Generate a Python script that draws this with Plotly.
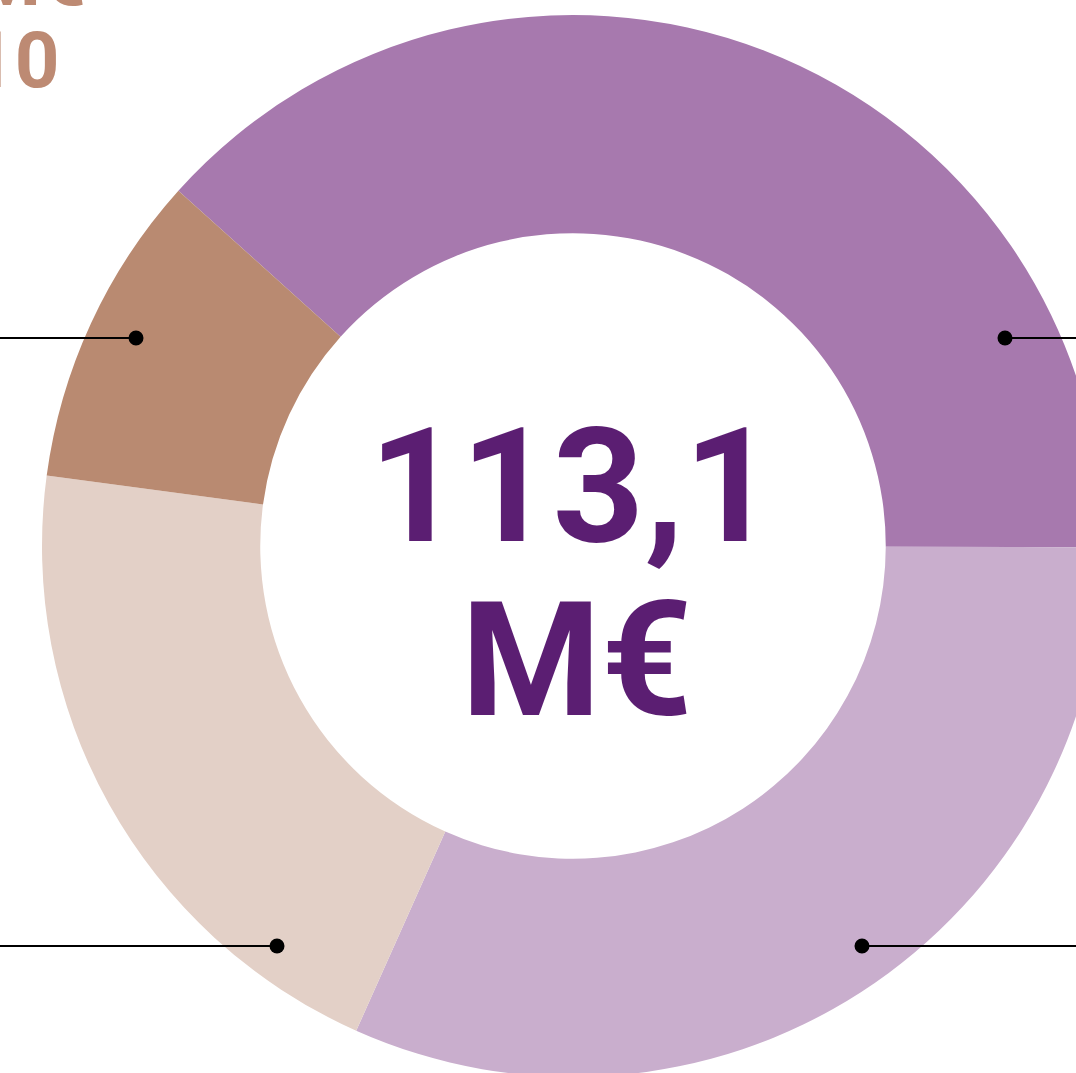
import plotly.graph_objects as go

# ---- data ----
categories = ["Segment A", "Segment B", "Segment C", "Segment D"]
values = [43.4, 35.8, 23.1, 10.8]
colors = ["#a779ae", "#c9aecd", "#e3d0c7", "#b98a71"]
total_label = ["113,1", "M€"]
side_label = ["10,8 M€", "10"]

W, H = 1200, 1200
cx, cy, R = 573, 546, 531  # donut centre / radius in page pixels


def px(x):
    return x / W


def py(y):
    return 1 - y / H


fig = go.Figure()
fig.add_trace(go.Pie(
    labels=categories,
    values=values,
    marker=dict(colors=colors, line=dict(width=0)),
    hole=0.589,
    sort=False,
    direction="clockwise",
    rotation=312,
    textinfo="none",
    hoverinfo="label+value",
    showlegend=False,
    domain=dict(x=[px(cx - R), px(cx + R)], y=[py(cy + R), py(cy - R)]),
))

# leader lines with dots
leaders = [(0, 136, 338), (1005, W, 338), (0, 277, 946), (862, W, 946)]
shapes = []
for x0, x1, y in leaders:
    shapes.append(dict(type="line", xref="paper", yref="paper",
                       x0=px(x0), x1=px(x1), y0=py(y), y1=py(y),
                       line=dict(color="black", width=2)))
for x, y in [(136, 338), (1005, 338), (277, 946), (862, 946)]:
    r = 7.5
    shapes.append(dict(type="circle", xref="paper", yref="paper",
                       x0=px(x - r), x1=px(x + r), y0=py(y + r), y1=py(y - r),
                       fillcolor="black", line=dict(width=0)))

FAM = "Roboto, Arial, sans-serif"
font_c = dict(family=FAM, color="#5b1e72", size=160, weight=700)
font_s = dict(family=FAM, color="#bd8a73", size=78, weight=700)
annotations = [
    dict(text=total_label[0], x=px(cx - 1), y=py(487), xref="paper", yref="paper",
         showarrow=False, font=font_c, xanchor="center", yanchor="middle"),
    dict(text=total_label[1], x=px(cx + 4), y=py(660), xref="paper", yref="paper",
         showarrow=False, font=font_c, xanchor="center", yanchor="middle"),
    dict(text=side_label[0], x=px(88), y=py(-22), xref="paper", yref="paper",
         showarrow=False, font=font_s, xanchor="right", yanchor="middle"),
    dict(text=side_label[1], x=px(62), y=py(60), xref="paper", yref="paper",
         showarrow=False, font=font_s, xanchor="right", yanchor="middle"),
]

fig.update_layout(
    width=W, height=H,
    margin=dict(l=0, r=0, t=0, b=0),
    paper_bgcolor="white", plot_bgcolor="white",
    shapes=shapes, annotations=annotations,
)

fig.write_html("out.html", post_script="document.body.style.margin='0';document.body.style.overflow='hidden';document.documentElement.style.overflow='hidden';")
